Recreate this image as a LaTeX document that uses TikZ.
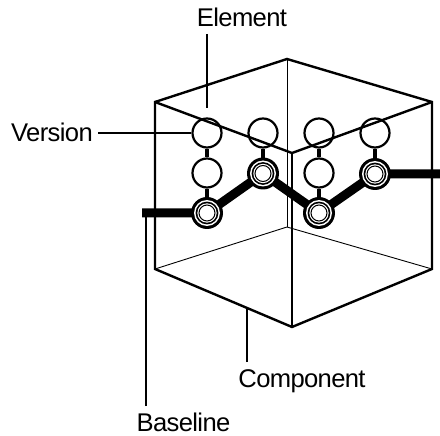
\documentclass[tikz,border=0pt]{standalone}
\usepackage{fontspec}
\setmainfont[LetterSpace=-2.5]{Liberation Sans}
\tikzset{
  x=1pt,y=-1pt,
  thickedge/.style={line width=2.4pt,line join=miter},
  thinedge/.style={line width=0.9pt},
  leader/.style={line width=2.2pt},
  base/.style={line width=9pt},
  link/.style={line width=4.6pt},
  ver/.style={circle,draw,fill=white,line width=2.2pt,minimum size=29pt,inner sep=0pt},
  lab/.style={inner sep=0pt,font=\fontsize{25.6}{26}\selectfont}
}
\begin{document}
\begin{tikzpicture}
\useasboundingbox (0,0) rectangle (440,436);
% cube back
\coordinate (T) at (287,59);
\coordinate (L) at (155,102);
\coordinate (R) at (432,102);
\coordinate (C) at (292,153);
\coordinate (LB) at (155,269);
\coordinate (RB) at (432,269);
\coordinate (CB) at (292,327);
\coordinate (BK) at (287,227);
\draw[thinedge] (T) -- (BK);
\draw[thinedge] (LB) -- (BK) -- (RB);
% baseline free ends
\coordinate (bl) at (142,213);
\coordinate (br) at (440,174);
% versions
\node[ver] (a1) at (207,133) {};
\node[ver] (b1) at (263,133) {};
\node[ver] (c1) at (319,133) {};
\node[ver] (d1) at (375,133) {};
\node[ver] (a2) at (207,173) {};
\node[ver] (c2) at (319,173) {};
\coordinate (b2) at (263,173.5);
\coordinate (d2) at (375,174);
\coordinate (a3) at (207,213);
\coordinate (c3) at (319,213);
\draw[link] (a1) -- (a2);
\draw[link] (a2) -- (a3);
\draw[link] (b1) -- (b2);
\draw[link] (c1) -- (c2);
\draw[link] (c2) -- (c3);
\draw[link] (d1) -- (d2);
\draw[base] (bl) -- (a3) -- (b2) -- (c3) -- (d2) -- (br);
\foreach \p in {a3,b2,c3,d2}{
  \fill (\p) circle (16);
  \fill[white] (\p) circle (13);
  \fill (\p) circle (11.4);
  \fill[white] (\p) circle (9.7);
  \draw[line width=1pt] (\p) circle (8);
}
% cube front
\draw[thickedge] (T) -- (L) -- (LB) -- (CB) -- (RB) -- (R) -- cycle;
\draw[thickedge] (L) -- (C) -- (R);
\draw[thickedge] (C) -- (CB);
% labels
\node[lab,anchor=base] (elem) at (242,27) {Element};
\node[lab,anchor=base west] (vers) at (11,142) {Version};
\node[lab,anchor=base] (comp) at (302,387) {Component};
\node[lab,anchor=base] (basel) at (183.5,431) {Baseline};
\coordinate (e0) at (207,34);
\coordinate (v0) at (98,133);
\coordinate (c0) at (247,362);
\coordinate (c9) at (247,308);
\coordinate (b0) at (146,406);
\coordinate (b9) at (146,213);
\draw[leader,shorten >=9pt] (e0) -- (a1.north);
\draw[leader] (v0) -- (a1.west);
\draw[leader] (c0) -- (c9);
\draw[leader] (b0) -- (b9);
\end{tikzpicture}
\end{document}
